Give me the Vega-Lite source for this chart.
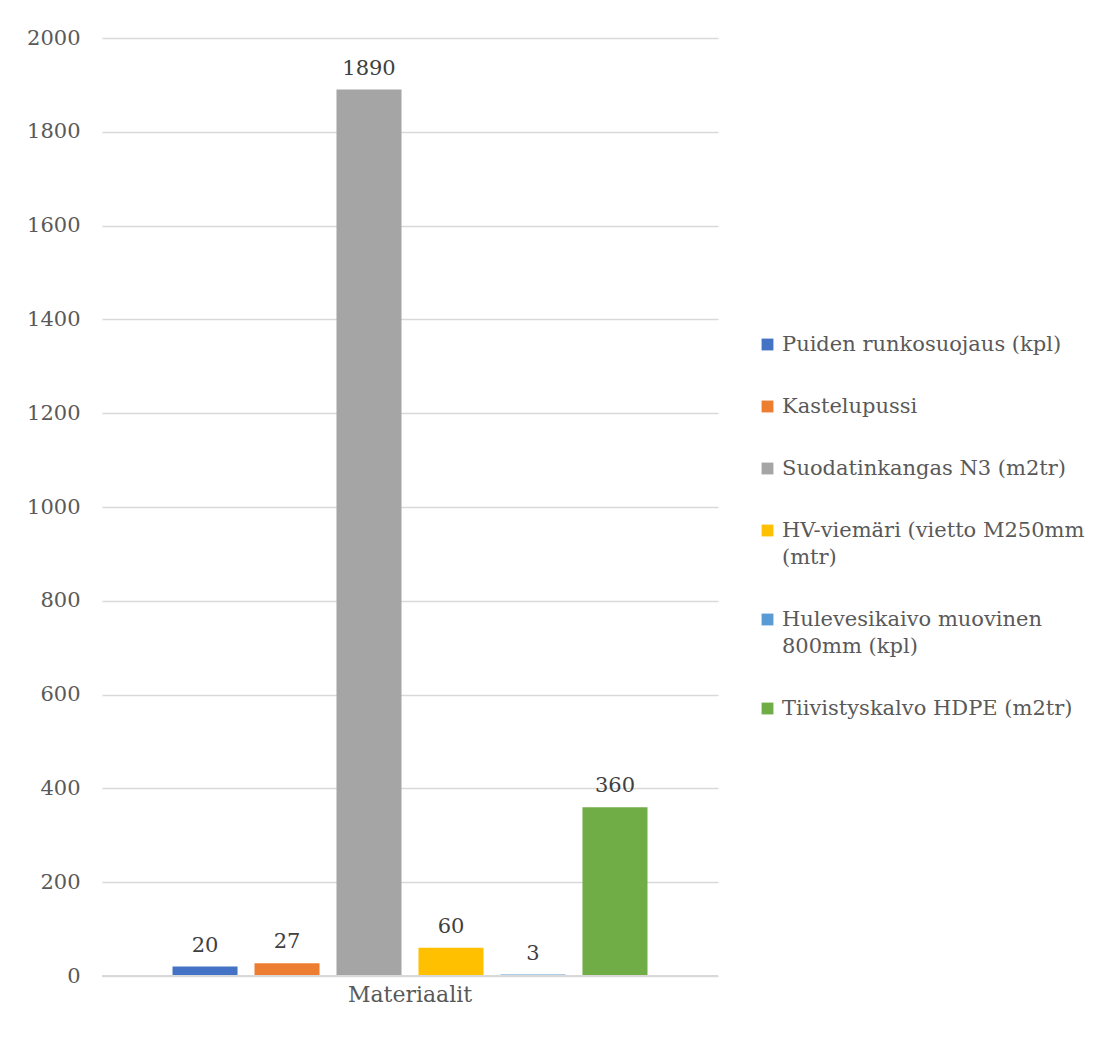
{
  "$schema": "https://vega.github.io/schema/vega-lite/v6.json",
  "autosize": "none",
  "width": 616,
  "height": 938,
  "padding": {"left": 102, "top": 38, "right": 390, "bottom": 61},
  "background": "white",
  "config": {
    "view": {"stroke": null},
    "font": "DejaVu Serif",
    "style": {"guide-label": {"lineHeight": 27}}
  },
  "data": {
    "values": [
      {"group": "Materiaalit", "series": "Puiden runkosuojaus (kpl)", "value": 20},
      {"group": "Materiaalit", "series": "Kastelupussi", "value": 27},
      {"group": "Materiaalit", "series": "Suodatinkangas N3 (m2tr)", "value": 1890},
      {"group": "Materiaalit", "series": "HV-viemäri (vietto M250mm (mtr)", "value": 60},
      {"group": "Materiaalit", "series": "Hulevesikaivo muovinen 800mm (kpl)", "value": 3},
      {"group": "Materiaalit", "series": "Tiivistyskalvo HDPE (m2tr)", "value": 360}
    ]
  },
  "encoding": {
    "x": {
      "field": "group",
      "type": "nominal",
      "scale": {"paddingInner": 0, "paddingOuter": 0},
      "axis": {
        "title": null,
        "labelAngle": 0,
        "labelFontSize": 22,
        "labelColor": "#595959",
        "labelPadding": 8,
        "ticks": false,
        "domain": false
      }
    },
    "xOffset": {
      "field": "series",
      "type": "nominal",
      "sort": null,
      "scale": {"paddingInner": 0.207, "paddingOuter": 0.86}
    },
    "y": {
      "field": "value",
      "type": "quantitative",
      "scale": {"domain": [0, 2000]},
      "axis": {
        "title": null,
        "format": "d",
        "values": [0, 200, 400, 600, 800, 1000, 1200, 1400, 1600, 1800, 2000],
        "labelFontSize": 21,
        "labelColor": "#595959",
        "labelPadding": 22,
        "ticks": false,
        "domain": false,
        "gridColor": "#d9d9d9",
        "gridWidth": 1.5
      }
    }
  },
  "layer": [
    {
      "mark": {"type": "bar"},
      "encoding": {
        "color": {
          "field": "series",
          "type": "nominal",
          "sort": null,
          "scale": {
            "domain": [
              "Puiden runkosuojaus (kpl)",
              "Kastelupussi",
              "Suodatinkangas N3 (m2tr)",
              "HV-viemäri (vietto M250mm (mtr)",
              "Hulevesikaivo muovinen 800mm (kpl)",
              "Tiivistyskalvo HDPE (m2tr)"
            ],
            "range": ["#4472C4", "#ED7D31", "#A5A5A5", "#FFC000", "#5B9BD5", "#70AD47"]
          },
          "legend": {
            "title": null,
            "orient": "none",
            "legendX": 655,
            "legendY": 296,
            "symbolType": "square",
            "symbolSize": 140,
            "symbolStrokeWidth": 0,
            "symbolOpacity": 1,
            "labelFontSize": 21,
            "labelColor": "#595959",
            "labelLimit": 400,
            "labelOffset": 4,
            "rowPadding": 40,
            "labelExpr": "datum.label == 'HV-viemäri (vietto M250mm (mtr)' ? ['HV-viemäri (vietto M250mm', '(mtr)'] : datum.label == 'Hulevesikaivo muovinen 800mm (kpl)' ? ['Hulevesikaivo muovinen', '800mm (kpl)'] : datum.label"
          }
        }
      }
    },
    {
      "mark": {"type": "rule", "color": "#d9d9d9", "strokeWidth": 2},
      "encoding": {"x": null, "xOffset": null, "y": {"datum": 0, "type": "quantitative"}}
    },
    {
      "mark": {"type": "text", "baseline": "bottom", "dy": -11, "fontSize": 21, "color": "#404040"},
      "encoding": {"text": {"field": "value", "type": "quantitative"}}
    }
  ]
}
